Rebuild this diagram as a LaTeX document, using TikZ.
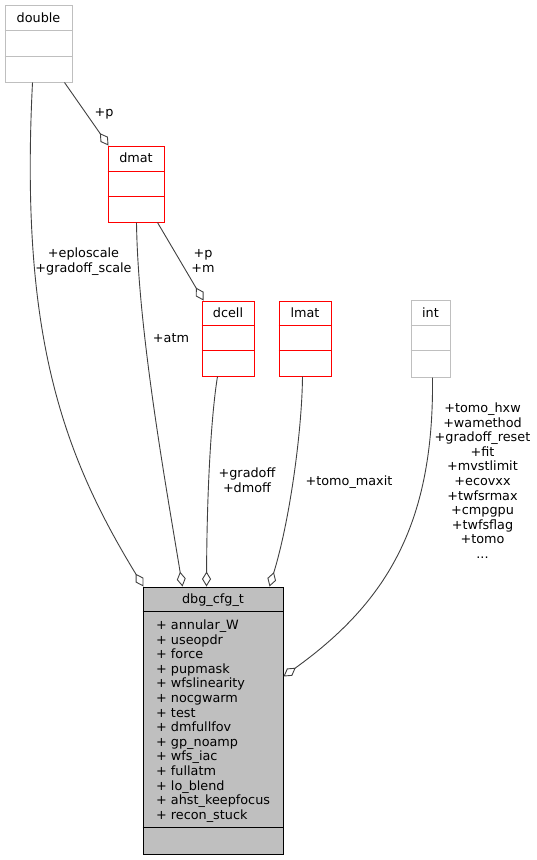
\documentclass[tikz,border=0pt]{standalone}
\usepackage{fontspec}
\setmainfont{DejaVu Sans}
\usetikzlibrary{arrows.meta}
\definecolor{edgec}{HTML}{404040}
\definecolor{grayb}{HTML}{BFBFBF}
\begin{document}
\begin{tikzpicture}[x=1pt,y=-1pt,
  every node/.style={font=\fontsize{12.8}{14.6}\selectfont, inner sep=0pt},
  gbox/.style={draw=grayb, line width=1pt, fill=white},
  rbox/.style={draw=red, line width=1pt, fill=white},
  mbox/.style={draw=black, line width=1pt, fill=grayb},
  ttl/.style={anchor=base},
  lbl/.style={anchor=base},
  mem/.style={anchor=base west},
  edge/.style={draw=edgec, line width=0.9pt, -{Diamond[open,length=15pt,width=9pt]}}]
\useasboundingbox (0,0) rectangle (536,860);

% boxes
\node[gbox, minimum width=67, minimum height=77] (double) at (38.5,43.5) {};
\draw[grayb, line width=1pt] ([yshift=-26]double.north west) -- ([yshift=-26]double.north east);
\draw[grayb, line width=1pt] ([yshift=-52]double.north west) -- ([yshift=-52]double.north east);
\node[ttl] (double-t) at (38.5,22) {double};

\node[rbox, minimum width=56, minimum height=76] (dmat) at (136,184) {};
\draw[red, line width=1pt] ([yshift=-26]dmat.north west) -- ([yshift=-26]dmat.north east);
\draw[red, line width=1pt] ([yshift=-51]dmat.north west) -- ([yshift=-51]dmat.north east);
\node[ttl] (dmat-t) at (136,162.5) {dmat};

\node[rbox, minimum width=52, minimum height=75] (dcell) at (228,338.5) {};
\draw[red, line width=1pt] ([yshift=-25]dcell.north west) -- ([yshift=-25]dcell.north east);
\draw[red, line width=1pt] ([yshift=-50]dcell.north west) -- ([yshift=-50]dcell.north east);
\node[ttl] (dcell-t) at (228,317.5) {dcell};

\node[rbox, minimum width=52, minimum height=75] (lmat) at (305,338.5) {};
\draw[red, line width=1pt] ([yshift=-25]lmat.north west) -- ([yshift=-25]lmat.north east);
\draw[red, line width=1pt] ([yshift=-50]lmat.north west) -- ([yshift=-50]lmat.north east);
\node[ttl] (lmat-t) at (305,317.5) {lmat};

\node[gbox, minimum width=39, minimum height=77] (int) at (430.5,338.5) {};
\draw[grayb, line width=1pt] ([yshift=-26]int.north west) -- ([yshift=-26]int.north east);
\draw[grayb, line width=1pt] ([yshift=-51]int.north west) -- ([yshift=-51]int.north east);
\node[ttl] (int-t) at (430.5,317) {int};

\node[mbox, minimum width=140, minimum height=267] (dbg) at (213,720.5) {};
\draw[black, line width=1pt] ([yshift=-25]dbg.north west) -- ([yshift=-25]dbg.north east);
\draw[black, line width=1pt] ([yshift=-241]dbg.north west) -- ([yshift=-241]dbg.north east);
\node[ttl] (dbg-t) at (213,603.5) {dbg\_cfg\_t};

\foreach \t [count=\i from 0] in {annular\_W,useopdr,force,pupmask,wfslinearity,nocgwarm,test,dmfullfov,gp\_noamp,wfs\_iac,fullatm,lo\_blend,ahst\_keepfocus,recon\_stuck}
  \node[mem] (m\i) at (156,629.5+14.6*\i) {+ \t};

% edges
\draw[edge] ([xshift=28]double.south west) .. controls (20,330) and (60,450) .. ([xshift=1]dbg.north west);
\draw[edge] ([xshift=60]double.south west) -- ([xshift=1]dmat.north west);
\draw[edge] ([xshift=29]dmat.south west) .. controls (138,330) and (165,480) .. ([xshift=40]dbg.north west);
\draw[edge] ([xshift=50]dmat.south west) -- ([xshift=2]dcell.north west);
\draw[edge] ([xshift=16]dcell.south west) .. controls (212,410) and (207,480) .. ([xshift=64]dbg.north west);
\draw[edge] ([xshift=24]lmat.south west) .. controls (302,430) and (290,520) .. ([xshift=127]dbg.north west);
\draw[edge] ([xshift=22]int.south west) .. controls (434,520) and (390,600) .. ([yshift=-90]dbg.north east);

% labels
\node[lbl] (l-p1) at (104,116.5) {+p};
\node[lbl] (l-ep1) at (83.5,257.5) {+eploscale};
\node[lbl] (l-ep2) at (83.5,272) {+gradoff\_scale};
\node[lbl] (l-atm) at (171,342.5) {+atm};
\node[lbl] (l-pm1) at (203,257.5) {+p};
\node[lbl] (l-pm2) at (203,272) {+m};
\node[lbl] (l-gd1) at (247,477.5) {+gradoff};
\node[lbl] (l-gd2) at (247,492) {+dmoff};
\node[lbl] (l-tm) at (349,485.5) {+tomo\_maxit};
\foreach \t [count=\i from 0] in {+tomo\_hxw,+wamethod,+gradoff\_reset,+fit,+mvstlimit,+ecovxx,+twfsrmax,+cmpgpu,+twfsflag,+tomo}
  \node[lbl] (li\i) at (482.5,412.5+14.6*\i) {\t};
\node[lbl] (li10) at (482.5,412.5+14.6*10) {.\kern0pt.\kern0pt.};
\end{tikzpicture}
\end{document}
